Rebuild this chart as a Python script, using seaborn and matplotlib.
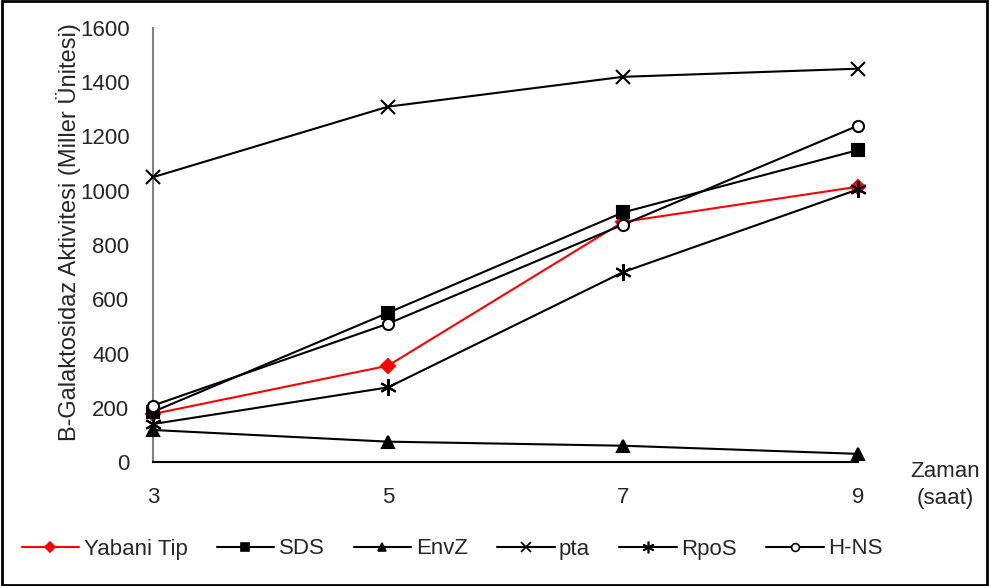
import matplotlib
matplotlib.use("Agg")
import matplotlib.pyplot as plt
import seaborn as sns
import pandas as pd
from matplotlib.patches import Rectangle
from matplotlib.lines import Line2D

sns.set_style("white")
plt.rcParams['font.family'] = ['Liberation Sans', 'DejaVu Sans']

hours = [3, 5, 7, 9]
yabani_tip = [177, 355, 885, 1015]
sds = [185, 550, 920, 1150]
envz = [118, 75, 60, 30]
pta = [1050, 1310, 1420, 1450]
rpos = [140, 275, 700, 1005]
hns = [208, 510, 875, 1240]

series_names = ["Yabani Tip", "SDS", "EnvZ", "pta", "RpoS", "H-NS"]
series_vals = [yabani_tip, sds, envz, pta, rpos, hns]

colors = {"Yabani Tip": "#ff0000", "SDS": "black", "EnvZ": "black",
          "pta": "black", "RpoS": "black", "H-NS": "black"}
markers = {"Yabani Tip": "D", "SDS": "s", "EnvZ": "^", "pta": "x",
           "RpoS": (6, 2, 0), "H-NS": "o"}
msizes = {"Yabani Tip": 7, "SDS": 8, "EnvZ": 9, "pta": 10, "RpoS": 12, "H-NS": 8}
faces = {"Yabani Tip": "#ff0000", "SDS": "black", "EnvZ": "black",
         "pta": "black", "RpoS": "black", "H-NS": "white"}

FS = 16

fig = plt.figure(figsize=(9.89, 5.86), dpi=100)
ax = fig.add_axes([153/989, 1-462/586, (858-153)/989, (462-28)/586])

for name, vals in zip(series_names, series_vals):
    d = pd.DataFrame({"Zaman": hours, "Deger": vals})
    sns.lineplot(data=d, x="Zaman", y="Deger", ax=ax, color=colors[name],
                 marker=markers[name], markersize=msizes[name],
                 markerfacecolor=faces[name], markeredgecolor=colors[name],
                 markeredgewidth=1.5, linewidth=1.5, clip_on=False, zorder=3)

ax.set_xlim(3, 9)
ax.set_ylim(0, 1600)
ax.set_xticks(hours)
ax.set_yticks(range(0, 1601, 200))
ax.tick_params(axis='both', labelsize=FS, direction='out', length=6,
               color='#808080', width=1.2)
ax.tick_params(axis='y', pad=11)
ax.tick_params(axis='x', pad=12)
for s in ["top", "right"]:
    ax.spines[s].set_visible(False)
ax.spines["left"].set_color('#808080')
ax.spines["left"].set_linewidth(1.5)
ax.spines["bottom"].set_color('black')
ax.spines["bottom"].set_linewidth(1.5)
ax.set_xlabel("")
ax.set_ylabel("B-Galaktosidaz Aktivitesi (Miller Ünitesi)", fontsize=17, labelpad=10)
ax.yaxis.set_label_coords(-72/705, 0.53)

fig.text(945/989, 1-485/586, "Zaman\n(saat)", fontsize=FS, ha='center', va='center',
         linespacing=1.35)

handles = []
for name in series_names:
    h = Line2D([], [], color=colors[name], marker=markers[name],
               markersize=msizes[name] * 0.7,
               markerfacecolor=faces[name],
               markeredgecolor=colors[name], markeredgewidth=1.2, linewidth=1.5)
    handles.append(h)
fig.legend(handles, series_names, loc='center', bbox_to_anchor=(452/989, 1-549/586),
           ncol=6, frameon=False, fontsize=FS, handlelength=2.6, handletextpad=0.2,
           columnspacing=1.3)

fig.patches.append(Rectangle((0.002, 0.002), 0.996, 0.996, transform=fig.transFigure,
                             fill=False, edgecolor='black', linewidth=2))

fig.savefig("out.png", dpi=100)
